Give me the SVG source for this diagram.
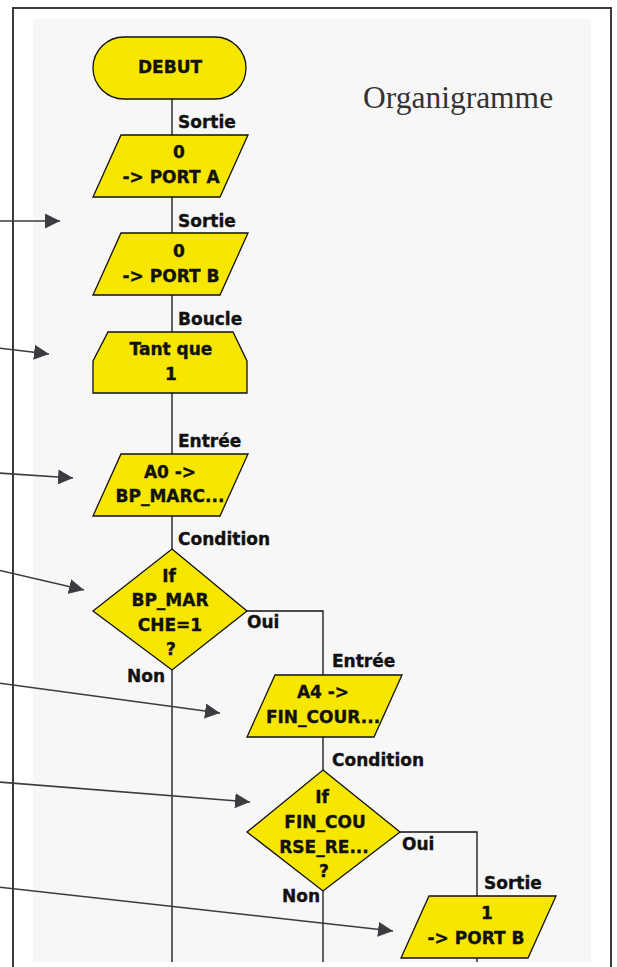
<svg xmlns="http://www.w3.org/2000/svg" width="617" height="967" viewBox="0 0 617 967">
<style>
.shape{fill:#f6e600;stroke:#111;stroke-width:1.3}
.t{font-family:"DejaVu Sans",Verdana,sans-serif;font-weight:bold;font-size:17px;fill:#111;stroke:#111;stroke-width:0.35}
.c{text-anchor:middle}
.conn{fill:none;stroke:#111;stroke-width:1.3}
.ptr{fill:none;stroke:#3b3b40;stroke-width:1.6}
.frame{fill:none;stroke:#3a3a3a;stroke-width:2}
.title{font-family:"Liberation Serif","Times New Roman",serif;font-size:31.5px;fill:#333}
</style>
<defs>
<marker id="ah" markerUnits="userSpaceOnUse" markerWidth="16" markerHeight="16" refX="15" refY="7.5" orient="auto">
<path d="M0,0 L15,7.5 L0,15 z" fill="#3b3b40"/>
</marker>
</defs>
<rect x="0" y="0" width="617" height="967" fill="#fff"/>
<rect x="33" y="19" width="558" height="943" fill="#f7f7f7"/>
<line class="frame" x1="13" y1="8" x2="13" y2="967"/>
<line class="frame" x1="12" y1="8" x2="612" y2="8"/>
<line class="frame" x1="611" y1="8" x2="611" y2="967"/>
<text class="title" x="363" y="108">Organigramme</text>

<g id="connectors">
<path class="conn" d="M172,99 V135"/>
<path class="conn" d="M172,197 V233"/>
<path class="conn" d="M172,295 V332"/>
<path class="conn" d="M172,393 V454"/>
<path class="conn" d="M172,516 V549"/>
<path class="conn" d="M172,670 V962"/>
<path class="conn" d="M247,611 H323 V675"/>
<path class="conn" d="M323,737 V770"/>
<path class="conn" d="M323,891 V962"/>
<path class="conn" d="M400,832 H477 V896"/>
<path class="conn" d="M477,958 V962"/>
<text class="t" x="178" y="128">Sortie</text>
<text class="t" x="178" y="227">Sortie</text>
<text class="t" x="178" y="325">Boucle</text>
<text class="t" x="178" y="447">Entrée</text>
<text class="t" x="178" y="545">Condition</text>
<text class="t" x="247" y="628">Oui</text>
<text class="t" x="127" y="682">Non</text>
<text class="t" x="332" y="667">Entrée</text>
<text class="t" x="332" y="766">Condition</text>
<text class="t" x="402" y="850">Oui</text>
<text class="t" x="282" y="902">Non</text>
<text class="t" x="484" y="889">Sortie</text>
</g>

<g id="debut">
<rect class="shape" x="93" y="37" width="153" height="62" rx="31" ry="31"/>
<text class="t c" x="170" y="73">DEBUT</text>
</g>
<g id="sortie-porta">
<polygon class="shape" points="121,135 248,135 220,197 93,197"/>
<text class="t c" x="179" y="158">0</text>
<text class="t c" x="171" y="183">-&gt; PORT A</text>
</g>
<g id="sortie-portb">
<polygon class="shape" points="121,233 248,233 220,295 93,295"/>
<text class="t c" x="179" y="257">0</text>
<text class="t c" x="171" y="282">-&gt; PORT B</text>
</g>
<g id="boucle">
<polygon class="shape" points="108,332 233,332 247,361 247,393 93,393 93,361"/>
<text class="t c" x="171" y="355">Tant que</text>
<text class="t c" x="171" y="380">1</text>
</g>
<g id="entree-a0">
<polygon class="shape" points="121,454 248,454 220,516 93,516"/>
<text class="t c" x="170" y="478">A0 -&gt;</text>
<text class="t c" x="170" y="502">BP_MARC...</text>
</g>
<g id="condition-bp">
<polygon class="shape" points="172,549 247,611 172,670 93,611"/>
<text class="t c" x="169" y="582">If</text>
<text class="t c" x="170" y="606">BP_MAR</text>
<text class="t c" x="170" y="631">CHE=1</text>
<text class="t c" x="171" y="655">?</text>
</g>
<g id="entree-a4">
<polygon class="shape" points="275,675 402,675 374,737 247,737"/>
<text class="t c" x="323" y="698">A4 -&gt;</text>
<text class="t c" x="323" y="723">FIN_COUR...</text>
</g>
<g id="condition-fc">
<polygon class="shape" points="323,770 400,832 323,891 247,832"/>
<text class="t c" x="322" y="803">If</text>
<text class="t c" x="325" y="828">FIN_COU</text>
<text class="t c" x="324" y="853">RSE_RE...</text>
<text class="t c" x="324" y="877">?</text>
</g>
<g id="sortie-portb-1">
<polygon class="shape" points="429,896 556,896 528,958 401,958"/>
<text class="t c" x="487" y="919">1</text>
<text class="t c" x="476" y="944">-&gt; PORT B</text>
</g>

<g id="pointers">
<line class="ptr" x1="-2" y1="221" x2="60" y2="221" marker-end="url(#ah)"/>
<line class="ptr" x1="-2" y1="348" x2="49" y2="354" marker-end="url(#ah)"/>
<line class="ptr" x1="-2" y1="473" x2="73" y2="478" marker-end="url(#ah)"/>
<line class="ptr" x1="-2" y1="570" x2="84" y2="590" marker-end="url(#ah)"/>
<line class="ptr" x1="-2" y1="683" x2="220" y2="713" marker-end="url(#ah)"/>
<line class="ptr" x1="-2" y1="782" x2="250" y2="802" marker-end="url(#ah)"/>
<line class="ptr" x1="-2" y1="887" x2="393" y2="931" marker-end="url(#ah)"/>
</g>
</svg>
